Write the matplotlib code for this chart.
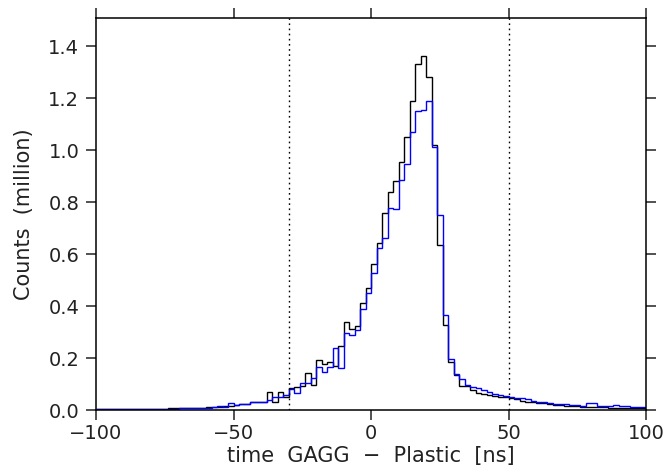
import numpy as np
import matplotlib
matplotlib.use("Agg")
import matplotlib.pyplot as plt

# bin layout: 2 ns bins from -100 to 100 ns
bin_lo, bin_hi, bin_w = -100, 100, 2

# counts (million) per bin, black histogram
black = [
    # -100 .. -80
    0.002, 0.002, 0.002, 0.002, 0.003, 0.003, 0.003, 0.004, 0.004, 0.004,
    # -80 .. -64
    0.005, 0.005, 0.005, 0.006, 0.006, 0.007, 0.007, 0.008,
    # -64 .. -50
    0.009, 0.008, 0.010, 0.011, 0.012, 0.014, 0.016,
    # -50 .. -30
    0.020, 0.022, 0.024, 0.030, 0.030, 0.030, 0.068, 0.032, 0.068, 0.050,
    # -30 .. -10
    0.083, 0.090, 0.092, 0.141, 0.095, 0.192, 0.177, 0.186, 0.170, 0.246,
    # -10 .. 10
    0.337, 0.310, 0.324, 0.410, 0.470, 0.560, 0.643, 0.757, 0.837, 0.880,
    # 10 .. 30
    0.954, 1.049, 1.188, 1.330, 1.360, 1.280, 1.020, 0.635, 0.327, 0.183,
    # 30 .. 50
    0.135, 0.092, 0.092, 0.077, 0.064, 0.061, 0.058, 0.055, 0.051, 0.049,
    # 50 .. 100
    0.047, 0.041, 0.036, 0.032, 0.029, 0.028, 0.026, 0.023, 0.020, 0.019,
    0.017, 0.015, 0.014, 0.013, 0.013, 0.012, 0.010, 0.010, 0.009, 0.009,
    0.008, 0.008, 0.008, 0.006, 0.008,
]

# counts (million) per bin, blue histogram
blue = [
    # -100 .. -80
    0.003, 0.003, 0.002, 0.002, 0.002, 0.003, 0.003, 0.003, 0.003, 0.004,
    # -80 .. -64
    0.004, 0.004, 0.005, 0.005, 0.005, 0.006, 0.006, 0.007,
    # -64 .. -50
    0.007, 0.009, 0.008, 0.010, 0.015, 0.013, 0.028,
    # -50 .. -30
    0.019, 0.022, 0.025, 0.032, 0.032, 0.030, 0.038, 0.050, 0.050, 0.056,
    # -30 .. -10
    0.080, 0.065, 0.105, 0.105, 0.125, 0.164, 0.147, 0.165, 0.237, 0.160,
    # -10 .. 10
    0.295, 0.288, 0.308, 0.388, 0.449, 0.526, 0.622, 0.660, 0.776, 0.773,
    # 10 .. 30
    0.885, 0.946, 1.068, 1.150, 1.153, 1.190, 1.013, 0.750, 0.365, 0.197,
    # 30 .. 50
    0.138, 0.119, 0.095, 0.087, 0.083, 0.077, 0.070, 0.062, 0.058, 0.052,
    # 50 .. 100
    0.051, 0.047, 0.045, 0.041, 0.036, 0.032, 0.029, 0.027, 0.025, 0.022,
    0.023, 0.020, 0.018, 0.017, 0.026, 0.026, 0.017, 0.015, 0.015, 0.019,
    0.017, 0.014, 0.013, 0.013, 0.010,
]

cut_lines = [-30, 50]
x_ticks = [-100, -50, 0, 50, 100]
y_ticks = [0.0, 0.2, 0.4, 0.6, 0.8, 1.0, 1.2, 1.4]

edges = np.arange(bin_lo, bin_hi + bin_w, bin_w)

plt.rcParams['font.family'] = ['DejaVu Sans']
fig = plt.figure(figsize=(6.63, 4.70), dpi=100)
ax = fig.add_axes([96/663, 1 - 410/470, (646 - 96)/663, (410 - 18)/470])

ax.stairs(black, edges, color='black', linewidth=1.0, baseline=None)
ax.stairs(blue, edges, color='#0000ff', linewidth=1.0, baseline=None)

for xc in cut_lines:
    ax.axvline(xc, color='black', linestyle=(0, (1.2, 2.5)), linewidth=1.0)

ax.set_xlim(bin_lo, bin_hi)
ax.set_ylim(0, 1.508)
ax.set_xticks(x_ticks)
ax.set_yticks(y_ticks)
ax.set_yticklabels([f"{v:.1f}" for v in y_ticks])

ax.tick_params(axis='both', which='major', direction='out', length=7,
               width=1.1, labelsize=14, top=True, right=True,
               labeltop=False, labelright=False, colors='#222222')
ax.tick_params(axis='x', pad=3)
ax.tick_params(axis='y', pad=5)
for s in ax.spines.values():
    s.set_linewidth(1.1)

ax.set_xlabel("time  GAGG  \u2212  Plastic  [ns]", fontsize=15, labelpad=2,
              color='#222222')
ax.set_ylabel("Counts  (million)", fontsize=15, labelpad=10, color='#222222')

fig.savefig("out.png", dpi=100)
